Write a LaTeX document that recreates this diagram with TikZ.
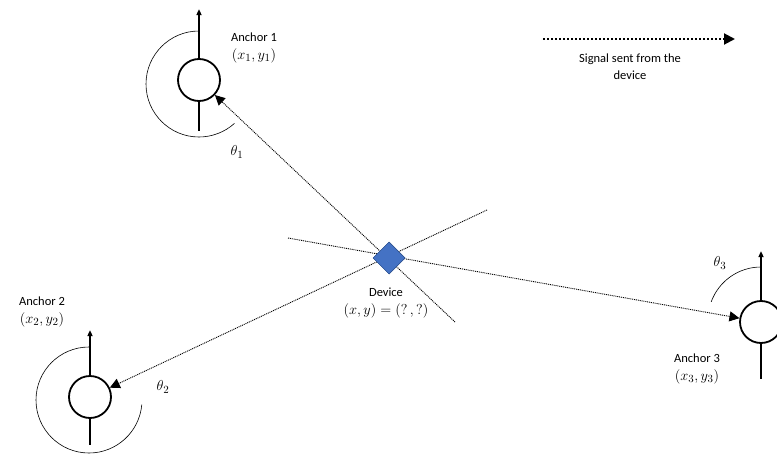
\documentclass[tikz,border=0pt]{standalone}
\usepackage{amsmath}
\usepackage{fontspec}
\setmainfont{Carlito}
\usepackage{tikz}
\usetikzlibrary{shapes.geometric,arrows.meta}

\definecolor{devblue}{HTML}{4472C4}
\definecolor{devedge}{HTML}{2F528F}
\newcommand{\coordtxt}[1]{{\fontsize{15}{17}\selectfont$#1$}}

\begin{document}
\begin{tikzpicture}[x=1pt,y=-1pt,font=\fontsize{12.5}{15}\selectfont,
  >={Triangle[length=10pt,width=10pt]}]
\tikzstyle{station}=[draw=black,circle,line width=1.8pt,minimum size=42pt,inner sep=0pt]
\tikzstyle{axis}=[line width=1.8pt,-{Triangle[length=6pt,width=5pt]}]
\tikzstyle{sweep}=[line width=0.6pt]
\tikzstyle{signal}=[line width=0.9pt,dash pattern=on 1pt off 0.9pt,->]
\tikzstyle{caption}=[align=center,inner sep=0pt]
\tikzstyle{device}=[diamond,fill=devblue,draw=devedge,line width=0.5pt,inner sep=0pt,minimum size=32pt]
\useasboundingbox (0,0) rectangle (777,455);

% the device and the three anchors
\node[device] (dev) at (389,258) {};
\node[station] (a1) at (199,80) {};
\node[station] (a2) at (90,397) {};
\node[station] (a3) at (761,322) {};

% far ends of the dotted lines behind the device
\coordinate (e1) at (455,322);
\coordinate (e2) at (487,210);
\coordinate (e3) at (288,238);

% orientation axes
\draw[line width=1.8pt] (a1.south) -- ++(0,29);
\draw[axis] (a1.north) -- ++(0,-49);
\draw[line width=1.8pt] (a2.south) -- ++(0,26);
\draw[axis] (a2.north) -- ++(0,-45);
\draw[line width=1.8pt] (a3.south) -- ++(0,35);
\draw[axis] (a3.north) -- ++(0,-49);

% angles (y runs downwards, so they turn the negative way)
\draw[sweep] (199,31) arc[start angle=-90,end angle=-312,radius=53];
\draw[sweep] (89,347) arc[start angle=-90,end angle=-355,radius=53];
\draw[sweep] (761,267) arc[start angle=-90,end angle=-160,radius=53];

% signals
\draw[signal] (e1) -- (a1);
\draw[signal] (e2) -- (a2);
\draw[signal] (e3) -- (a3);
\node[device] at (dev) {};

% labels
\node[caption] (l1) at (254,48) {Anchor 1\\[3pt]\coordtxt{(x_1,y_1)}};
\node[caption] (l2) at (42,312) {Anchor 2\\[3pt]\coordtxt{(x_2,y_2)}};
\node[caption] (l3) at (697,369) {Anchor 3\\[3pt]\coordtxt{(x_3,y_3)}};
\node[caption] (ld) at (386,303) {Device\\[3pt]\coordtxt{(x,y)=(?\,,?)}};
\node (t1) at (237,152) {\coordtxt{\theta_1}};
\node (t2) at (163,387) {\coordtxt{\theta_2}};
\node (t3) at (720,263) {\coordtxt{\theta_3}};

% legend
\coordinate (ls) at (543,39);
\coordinate (le) at (735,39);
\draw[line width=2pt,dash pattern=on 2pt off 2pt,-{Triangle[length=11pt,width=11pt]}] (ls) -- (le);
\node[caption] (lt) at (630,67) {Signal sent from the\\[2pt]device};
\end{tikzpicture}
\end{document}
